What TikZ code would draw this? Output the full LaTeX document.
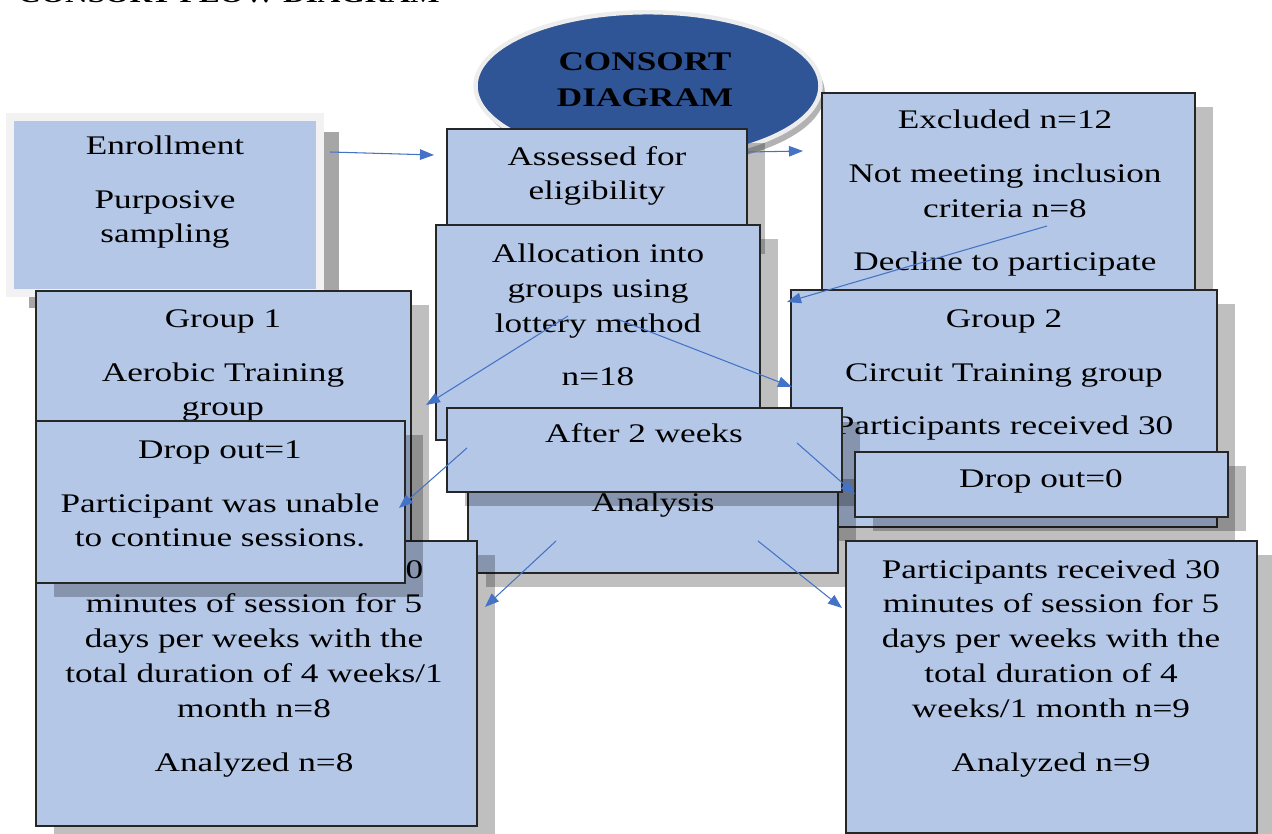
\documentclass[tikz,border=0pt]{standalone}
\usepackage{fontspec}
\setmainfont{Liberation Serif}[FakeStretch=1.31]
\usetikzlibrary{positioning,fit,shapes.geometric,shadows,arrows.meta}

\definecolor{boxblue}{HTML}{B4C7E7}
\definecolor{ovalblue}{HTML}{2F5597}
\definecolor{arrowblue}{HTML}{4472C4}
\definecolor{halo}{HTML}{F2F2F2}

\begin{document}
\begin{tikzpicture}[
        x=0.02cm,
        y=-0.02cm,
        every node/.style={font=\fontsize{15.3}{19.8}\selectfont},
        box/.style={
            rectangle,
            draw=black!85,
            line width=0.6pt,
            fill=boxblue,
            inner sep=0pt,
            drop shadow={shadow xshift=10.2pt, shadow yshift=-7.9pt, fill=black, opacity=.25}
        },
        enrollbox/.style={
            rectangle,
            draw=halo,
            line width=4pt,
            fill=boxblue,
            inner sep=0pt,
            drop shadow={shadow xshift=11pt, shadow yshift=-8.5pt, fill=black, opacity=.35}
        },
        oval/.style={
            ellipse,
            draw=black!7,
            line width=2.5pt,
            fill=ovalblue,
            minimum width=6.9cm,
            minimum height=2.95cm,
            drop shadow={shadow xshift=2.5pt, shadow yshift=-4pt, fill=black, opacity=.3}
        },
        % texts sit on the baseline of their last line
        txt/.style={
            anchor=base,
            align=center,
            inner sep=0pt
        },
        arrow/.style={
            -{Triangle[length=8pt,width=6pt]},
            draw=arrowblue,
            line width=0.6pt
        }
    ]

    \useasboundingbox (0,0) rectangle (1272,834);
    \clip (0,0) rectangle (1272,834);

    % heading
    \node[anchor=base west, font=\fontsize{13.6}{16}\selectfont\bfseries] (heading) at (12,3)
    {CONSORT FLOW DIAGRAM};

    % oval
    \node[oval] (consort) at (648,86) {};
    \node[txt, font=\fontsize{15.3}{19.8}\selectfont\bfseries] (consorttxt) at (645,107)
    {CONSORT\\[1.2pt]DIAGRAM};

    % enrollment
    \node[enrollbox, fit={(10,117) (320,293)}] (enroll) {};
    \node[txt] (enrolltxt) at (165,243)
    {Enrollment\\[10.8pt]Purposive\\sampling};

    % excluded
    \node[box, fit={(822,93) (1195,320)}] (exclud) {};
    \node[txt] (excludtxt) at (1005,271)
    {Excluded n=12\\[10.8pt]Not meeting inclusion\\criteria n=8\\[10.8pt]Decline to participate};

    % eligibility + allocation
    \node[box, fit={(447,129) (747,240)}] (assess) {};
    \node[txt] (assesstxt) at (597,200)
    {Assessed for\\eligibility};

    \node[box, fit={(436,225) (760,440)}] (alloc) {};
    \node[txt] (alloctxt) at (598,386)
    {Allocation into\\groups using\\lottery method\\[10.8pt]n=18};

    % groups
    \node[box, fit={(36,291) (411,545)}] (group1) {};
    \node[txt] (group1txt) at (223,416)
    {Group 1\\[10.8pt]Aerobic Training\\group};

    \node[box, fit={(791,290) (1217,527)}] (group2) {};
    \node[txt] (group2txt) at (1004,435)
    {Group 2\\[10.8pt]Circuit Training group\\[10.8pt]Participants received 30};

    % follow up
    \node[box, fit={(468,465) (838,573)}] (analys) {};
    \node[txt] (analystxt) at (653,512) {Analysis};

    \node[box, fit={(447,408) (842,492)}] (after) {};
    \node[txt] (aftertxt) at (644,443) {After 2 weeks};

    \node[box, fit={(855,452) (1228,517)}] (drop0) {};
    \node[txt] (drop0txt) at (1041,488) {Drop out=0};

    \node[box, fit={(36,541) (477,826)}] (botL) {};
    \node[txt] (botLtxt) at (254,771)
    {Participants received 30\\minutes of session for 5\\days per weeks with the\\total duration of 4 weeks/1\\month n=8\\[10.8pt]Analyzed n=8};

    \node[box, fit={(36,421) (405,583)}] (drop1) {};
    \node[txt] (drop1txt) at (220,547)
    {Drop out=1\\[10.8pt]Participant was unable\\to continue sessions.};

    \node[box, fit={(846,541) (1257,833)}] (botR) {};
    \node[txt] (botRtxt) at (1051,771)
    {Participants received 30\\minutes of session for 5\\days per weeks with the\\total duration of 4\\weeks/1 month n=9\\[10.8pt]Analyzed n=9};

    % arrow ends
    \coordinate (enrollOut) at (330,152);
    \coordinate (assessIn) at (434,155);
    \coordinate (assessOut) at (748,152);
    \coordinate (excludIn) at (803,151);
    \coordinate (excludOut) at (1047,226);
    \coordinate (group2Top) at (787,302);
    \coordinate (allocL) at (568,316);
    \coordinate (group1In) at (426,405);
    \coordinate (allocR) at (617,319);
    \coordinate (group2In) at (792,387);
    \coordinate (afterL) at (467,448);
    \coordinate (drop1In) at (399,508);
    \coordinate (afterR) at (797,443);
    \coordinate (drop0In) at (855,494);
    \coordinate (analysL) at (556,541);
    \coordinate (botLIn) at (485,607);
    \coordinate (analysR) at (758,541);
    \coordinate (botRIn) at (842,608);

    % arrows
    \draw[arrow] (enrollOut) -- (assessIn);
    \draw[arrow] (assessOut) -- (excludIn);
    \draw[arrow] (excludOut) -- (group2Top);
    \draw[arrow] (allocL) -- (group1In);
    \draw[arrow] (allocR) -- (group2In);
    \draw[arrow] (afterL) -- (drop1In);
    \draw[arrow] (afterR) -- (drop0In);
    \draw[arrow] (analysL) -- (botLIn);
    \draw[arrow] (analysR) -- (botRIn);

\end{tikzpicture}
\end{document}
